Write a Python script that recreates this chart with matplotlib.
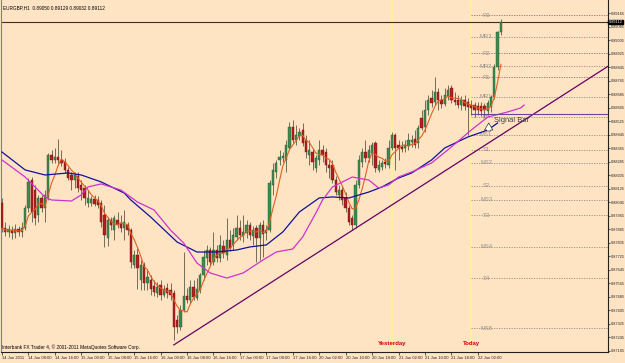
import numpy as np
import pandas as pd
import matplotlib
matplotlib.use("Agg")
import matplotlib.pyplot as plt

plt.rcParams['font.family'] = ['Liberation Sans Narrow', 'Liberation Sans', 'DejaVu Sans']

# EURGBP H1 bars, prices in points (1e-5)
opens = [88040, 87892, 87869, 87880, 87863, 87886, 87869, 87892, 88011, 88176,
         88117, 87969, 88070, 88011, 88076, 88324, 88295, 88313, 88295, 88283,
         88236, 88206, 88176, 88200, 88147, 88129, 88040, 88040, 88064, 88058,
         88040, 87969, 87833, 87940, 87880, 87940, 87922, 87892, 87910, 87880,
         87673, 87732, 87584, 87673, 87567, 87584, 87549, 87507, 87555, 87496,
         87537, 87525, 87507, 87348, 87306, 87407, 87490, 87466, 87543, 87478,
         87525, 87614, 87715, 87762, 87691, 87762, 87715, 87786, 87732, 87821,
         87792, 87839, 87892, 87845, 87863, 87910, 87845, 87892, 87833, 87910,
         87863, 87880, 88147, 88224, 88295, 88307, 88295, 88366, 88490, 88413,
         88437, 88472, 88413, 88324, 88342, 88247, 88295, 88354, 88342, 88265,
         88265, 88176, 88088, 88117, 88070, 88011, 87951, 87910, 88147, 88283,
         88342, 88307, 88336, 88395, 88236, 88253, 88283, 88265, 88366, 88443,
         88384, 88372, 88366, 88378, 88401, 88419, 88395, 88543, 88490, 88591,
         88662, 88638, 88697, 88650, 88626, 88674, 88721, 88650, 88650, 88620,
         88650, 88638, 88620, 88620, 88614, 88614, 88614, 88585, 88609, 88668,
         88845, 89050]
highs = [88070, 87928, 87910, 87904, 87916, 87904, 87928, 88028, 88188, 88194,
         88147, 88088, 88088, 88117, 88336, 88354, 88366, 88419, 88354, 88307,
         88253, 88224, 88224, 88224, 88176, 88147, 88117, 88082, 88088, 88082,
         88058, 88028, 87957, 87957, 87969, 87987, 87969, 87999, 87928, 87892,
         87762, 87774, 87703, 87691, 87644, 87614, 87584, 87573, 87584, 87555,
         87567, 87567, 87525, 87377, 87436, 87750, 87537, 87584, 87584, 87596,
         87626, 87762, 87792, 87780, 87869, 87792, 87851, 87821, 87951, 87880,
         87892, 87969, 87940, 87969, 87940, 87928, 87904, 87910, 87928, 87940,
         87910, 88176, 88277, 88295, 88354, 88342, 88413, 88520, 88532, 88502,
         88484, 88514, 88443, 88413, 88366, 88324, 88413, 88384, 88366, 88295,
         88295, 88200, 88147, 88141, 88105, 88028, 87969, 88176, 88324, 88366,
         88413, 88384, 88401, 88407, 88295, 88295, 88307, 88413, 88461, 88455,
         88413, 88407, 88413, 88455, 88443, 88472, 88502, 88591, 88650, 88680,
         88709, 88786, 88721, 88680, 88721, 88739, 88739, 88697, 88680, 88674,
         88680, 88662, 88650, 88638, 88638, 88638, 88632, 88650, 88680, 88863,
         89060, 89129]
lows = [87869, 87845, 87839, 87827, 87833, 87845, 87839, 87880, 87987, 87928,
        87910, 87928, 87987, 87928, 88058, 88277, 88277, 88265, 88259, 88218,
        88176, 88117, 88129, 88105, 88058, 88028, 88017, 88022, 88022, 88011,
        87898, 87780, 87786, 87880, 87821, 87892, 87869, 87821, 87851, 87655,
        87655, 87531, 87525, 87525, 87525, 87496, 87490, 87484, 87466, 87484,
        87478, 87466, 87229, 87271, 87288, 87395, 87448, 87448, 87466, 87466,
        87507, 87584, 87673, 87673, 87673, 87691, 87691, 87715, 87703, 87756,
        87762, 87821, 87821, 87809, 87833, 87821, 87792, 87691, 87703, 87721,
        87821, 87869, 88088, 88188, 88265, 88283, 88224, 88354, 88395, 88384,
        88413, 88378, 88307, 88265, 88236, 88224, 88265, 88283, 88224, 88188,
        88159, 88088, 88058, 88028, 87987, 87910, 87880, 87892, 88129, 88253,
        88283, 88283, 88265, 88224, 88224, 88236, 88247, 88247, 88354, 88236,
        88295, 88342, 88342, 88354, 88372, 88366, 88366, 88472, 88461, 88561,
        88609, 88620, 88591, 88603, 88614, 88650, 88632, 88620, 88603, 88591,
        88591, 88443, 88561, 88549, 88561, 88555, 88549, 88561, 88579, 88656,
        88830, 89032]
closes = [87892, 87869, 87886, 87863, 87886, 87869, 87892, 88011, 88165, 87987,
          87951, 88070, 88011, 88088, 88324, 88295, 88313, 88295, 88277, 88236,
          88188, 88176, 88206, 88129, 88117, 88070, 88070, 88064, 88034, 88028,
          87928, 87851, 87940, 87910, 87951, 87910, 87892, 87928, 87880, 87691,
          87732, 87655, 87673, 87567, 87602, 87531, 87513, 87543, 87496, 87531,
          87507, 87496, 87306, 87306, 87407, 87490, 87466, 87543, 87484, 87531,
          87614, 87721, 87762, 87691, 87762, 87715, 87792, 87744, 87821, 87774,
          87851, 87892, 87851, 87869, 87910, 87851, 87880, 87833, 87910, 87857,
          87880, 88159, 88236, 88277, 88313, 88318, 88384, 88490, 88413, 88443,
          88461, 88395, 88342, 88354, 88283, 88307, 88354, 88324, 88265, 88247,
          88176, 88105, 88117, 88058, 88011, 87928, 87910, 88147, 88295, 88342,
          88307, 88354, 88384, 88247, 88265, 88277, 88271, 88366, 88443, 88366,
          88366, 88360, 88384, 88413, 88413, 88384, 88484, 88484, 88591, 88650,
          88632, 88697, 88650, 88626, 88680, 88709, 88650, 88638, 88620, 88650,
          88614, 88609, 88603, 88591, 88591, 88585, 88591, 88632, 88668, 88845,
          89050, 89112]

# slow MA (blue) and shifted MA (magenta), read at bar indices
blue_idx = [0, 7, 13, 20, 24, 30, 37, 39, 45, 53, 59, 65, 71, 75, 80, 85, 90, 96, 100,
            105, 111, 115, 120, 124, 130, 134, 141, 147, 150]
blue_val = [88342, 88236, 88206, 88218, 88206, 88165, 88099, 88058, 87957, 87809, 87750,
            87750, 87762, 87780, 87792, 87869, 87987, 88070, 88076, 88070, 88105, 88135,
            88188, 88218, 88295, 88366, 88431, 88472, 88514]
mag_idx = [0, 7, 13, 15, 21, 24, 26, 30, 36, 41, 46, 51, 55, 59, 63, 68, 73, 79, 83, 88,
           91, 95, 97, 100, 106, 111, 114, 117, 120, 124, 130, 136, 142, 147, 153, 157, 158]
mag_val = [88295, 88194, 88076, 88058, 88052, 88088, 88135, 88153, 88117, 88046, 87999,
           87880, 87803, 87685, 87626, 87596, 87626, 87703, 87750, 87768, 87839, 87981,
           88058, 88135, 88194, 88176, 88129, 88147, 88194, 88224, 88277, 88372, 88472,
           88549, 88579, 88603, 88620]

trend_idx = [52, 184]
trend_val = [87200, 88857]
signal_level = 88567

pivot_names = ["R3", "MR3", "R2", "MR2", "R1", "MR1", "PP", "MS1", "S1", "MS2", "S2",
               "MS3", "S3", "MS4", "S4", "MS5"]
pivot_vals = [89153, 89023, 88928, 88851, 88786, 88668, 88549, 88443, 88354, 88277,
              88141, 88058, 87969, 87780, 87596, 87300]

time_labels = ["14 Jun 2011", "14 Jun 08:00", "14 Jun 16:00", "15 Jun 00:00", "15 Jun 08:00",
               "15 Jun 16:00", "16 Jun 00:00", "16 Jun 08:00", "16 Jun 16:00", "17 Jun 00:00",
               "17 Jun 08:00", "17 Jun 16:00", "20 Jun 02:00", "20 Jun 10:00", "20 Jun 18:00",
               "21 Jun 02:00", "21 Jun 10:00", "21 Jun 18:00", "22 Jun 02:00"]
yesterday_idx = 118
today_idx = 142

o = np.array(opens) / 1e5
h = np.array(highs) / 1e5
l = np.array(lows) / 1e5
c = np.array(closes) / 1e5
h = np.maximum(h, np.maximum(o, c))
l = np.minimum(l, np.minimum(o, c))
x = np.arange(len(c))
fast_ma = pd.Series(c).rolling(5, min_periods=1).mean()

bg = "#FFE4C4"
fig = plt.figure(figsize=(6.25, 3.63), dpi=100, facecolor=bg)
ax = fig.add_axes([0.0016, 0.0303, 0.9712, 0.9697], facecolor=bg)
ax.set_xlim(-0.3, 183.4)
ax.set_ylim(0.87158, 0.89242)

# day separators
for xi in (yesterday_idx, today_idx):
    ax.axvline(xi, color="#FFF09A", lw=1.6, zorder=1)
ax.text(yesterday_idx, 0.87195, "Yesterday", color="#CC0000", fontsize=4.3,
        fontweight="bold", ha="center", va="bottom", zorder=6)
ax.text(today_idx, 0.87195, "Today", color="#CC0000", fontsize=4.3,
        fontweight="bold", ha="center", va="bottom", zorder=6)

# pivot levels
for name, v in zip(pivot_names, pivot_vals):
    col = "#B06060" if name.startswith("R") else "#9A8A7A"
    ax.hlines(v / 1e5, today_idx, 184, colors=col, linestyles=(0, (1.5, 1.5)), lw=0.6, zorder=2)
    ax.text(today_idx + 4.5, v / 1e5, name, color="#909090", fontsize=4.2,
            ha="center", va="center", zorder=2)

# price line
ax.axhline(c[-1], color="#3A3020", lw=0.8, zorder=2)

# candles
up = c >= o
ax.vlines(x, l, h, color="#5A5A48", lw=0.6, zorder=3)
ax.bar(x[up], (c - o)[up], bottom=o[up], width=0.7, color="#3C8A50",
       edgecolor="#2A5A30", lw=0.3, zorder=4)
ax.bar(x[~up], (o - c)[~up], bottom=c[~up], width=0.7, color="#B02020",
       edgecolor="#701010", lw=0.3, zorder=4)

# indicators
ax.plot(x, fast_ma, color="#E06020", lw=0.8, zorder=5)
ax.plot(blue_idx, np.array(blue_val) / 1e5, color="#1010A0", lw=0.9, zorder=5)
ax.plot(mag_idx, np.array(mag_val) / 1e5, color="#CC33CC", lw=0.9, zorder=5)
ax.plot(trend_idx, np.array(trend_val) / 1e5, color="#660066", lw=0.9, zorder=5)
ax.hlines(signal_level / 1e5, today_idx, 184, colors="#7040A0", lw=0.8, zorder=5)

ax.annotate("", xy=(147.3, 0.88530), xytext=(147.3, 0.88450),
            arrowprops=dict(arrowstyle="simple,head_width=0.6,head_length=0.5,tail_width=0.3",
                            fc="white", ec="black", lw=0.4), zorder=6)
ax.text(149, 0.88530, "Signal Bar", fontsize=5.4, color="#404040", va="center", zorder=6)

# texts
ax.text(0.004, 0.985, "EURGBP,H1  0.89050 0.89129 0.89032 0.89112", transform=ax.transAxes,
        fontsize=3.4, va="top", ha="left")
ax.text(0.002, 0.005, "Interbank FX Trader 4, \u00a9 2001-2011 MetaQuotes Software Corp.",
        transform=ax.transAxes, fontsize=3.4, va="bottom", ha="left")

# axes
yt = np.arange(87165, 89166, 80) / 1e5
ax.yaxis.tick_right()
ax.set_yticks(yt)
ax.set_yticklabels(["%.5f" % v for v in yt])
ax.set_xticks(np.arange(0, 8 * len(time_labels), 8))
ax.set_xticklabels(time_labels, ha="left")
ax.tick_params(axis="x", labelsize=3.0, length=2, width=0.5, pad=1, colors="#202020")
ax.tick_params(axis="y", labelsize=2.8, length=1.5, width=0.5, pad=0.5, colors="#202020")
ax.text(1.001, c[-1], "%.5f" % c[-1], transform=ax.get_yaxis_transform(), fontsize=2.8,
        color="white", va="center", ha="left",
        bbox=dict(boxstyle="square,pad=0.1", fc="black", ec="black"), zorder=7)
ax.spines["top"].set_visible(False)
ax.spines["left"].set_color("#808080")
for s in ("right", "bottom"):
    ax.spines[s].set_color("#202020")
    ax.spines[s].set_linewidth(0.8)

plt.savefig("out.png", dpi=100, facecolor=bg)
plt.close()
